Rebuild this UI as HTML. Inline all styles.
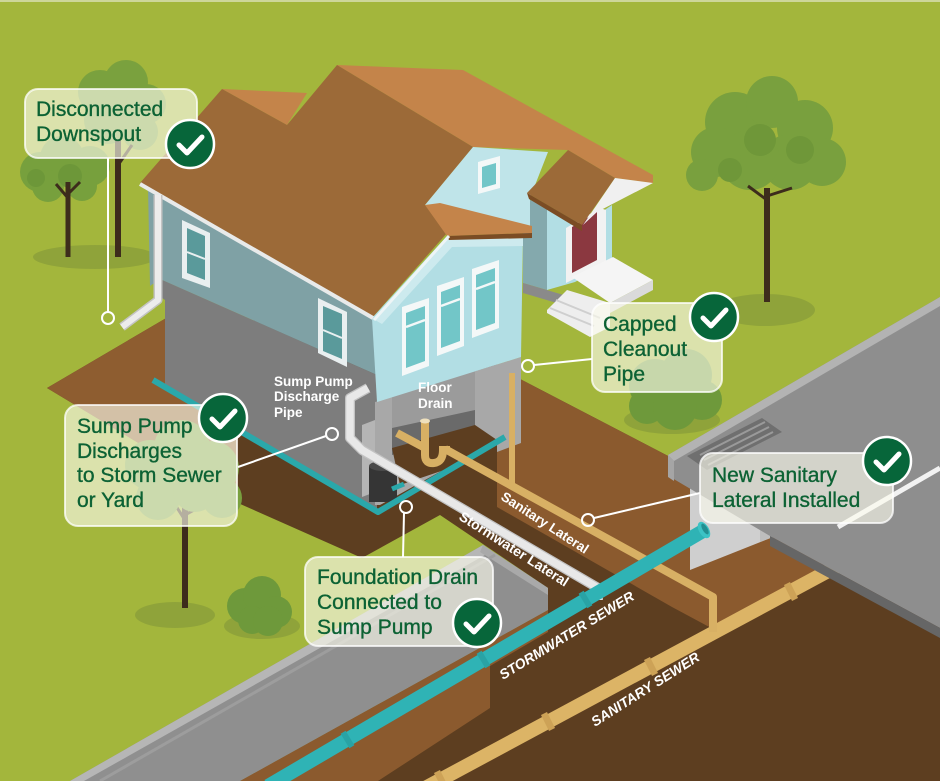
<!DOCTYPE html>
<html><head><meta charset="utf-8"><style>
html,body{margin:0;padding:0;background:#a3b63c;}
svg{display:block;}
.lbl{font-family:"Liberation Sans",sans-serif;font-size:21px;fill:#0c6234;stroke:#0c6234;stroke-width:0.35px;}
.wt{font-family:"Liberation Sans",sans-serif;font-weight:bold;fill:#ffffff;}
</style></head><body>
<svg width="940" height="781" viewBox="0 0 940 781" xmlns="http://www.w3.org/2000/svg">
<rect width="940" height="781" fill="#a3b63c"/>
<rect width="940" height="2" fill="#cdd69a"/>

<!-- left trees -->
<ellipse cx="95" cy="257" rx="62" ry="12" fill="#8fa33a"/>
<g fill="#7aa13e">
<circle cx="100" cy="92" r="22"/><circle cx="126" cy="82" r="22"/><circle cx="146" cy="104" r="20"/><circle cx="108" cy="120" r="24"/><circle cx="140" cy="132" r="18"/>
</g>
<line x1="118" y1="257" x2="118" y2="140" stroke="#3d2c1c" stroke-width="6"/>
<line x1="118" y1="165" x2="132" y2="145" stroke="#3d2c1c" stroke-width="3"/>
<g fill="#77a03d">
<circle cx="40" cy="172" r="20"/><circle cx="62" cy="158" r="22"/><circle cx="90" cy="166" r="20"/><circle cx="48" cy="186" r="16"/><circle cx="82" cy="186" r="15"/>
</g>
<g fill="#6d9739"><circle cx="70" cy="176" r="12"/><circle cx="36" cy="178" r="9"/></g>
<line x1="68" y1="257" x2="68" y2="182" stroke="#3d2c1c" stroke-width="5"/>
<line x1="68" y1="198" x2="56" y2="184" stroke="#3d2c1c" stroke-width="3"/>
<line x1="68" y1="194" x2="80" y2="182" stroke="#3d2c1c" stroke-width="3"/>

<!-- right tree -->
<ellipse cx="765" cy="310" rx="50" ry="16" fill="#8fa33a"/>
<g fill="#79a03e">
<circle cx="735" cy="122" r="30"/><circle cx="772" cy="102" r="26"/><circle cx="805" cy="128" r="28"/><circle cx="822" cy="162" r="24"/><circle cx="790" cy="162" r="28"/><circle cx="750" cy="160" r="30"/><circle cx="716" cy="152" r="25"/><circle cx="702" cy="175" r="16"/>
</g>
<g fill="#6f9739"><circle cx="760" cy="140" r="16"/><circle cx="800" cy="150" r="14"/><circle cx="730" cy="170" r="12"/></g>
<line x1="767" y1="302" x2="767" y2="188" stroke="#3d2c1c" stroke-width="6"/>
<line x1="767" y1="200" x2="748" y2="186" stroke="#3d2c1c" stroke-width="3"/>
<line x1="767" y1="196" x2="792" y2="188" stroke="#3d2c1c" stroke-width="3"/>

<!-- soil: dark base -->
<polygon points="47,388 168,317 497,330 497,367 672,458 940,298 940,781 240,781 548,610 548,588 440,515 362,558 238,503" fill="#5d3e20"/>
<!-- medium walls -->
<polygon points="47,388 168,317 168,383 238,423 238,503" fill="#8e5d30"/>
<polygon points="497,367 672,458 672,607 497,507" fill="#8b5a2e"/>
<polygon points="672,458 840,458 840,560 713,629 672,607" fill="#8b5a2e"/>
<polygon points="240,781 548,610 548,632 490,666 490,708 378,781" fill="#8b5a2e"/>

<!-- concrete box -->
<polygon points="690,470 773,470 773,537 690,570" fill="#cfcfcf"/>
<polygon points="760,470 773,470 773,537 760,542" fill="#bdbdbd"/>

<!-- sanitary sewer (behind street) -->
<line x1="425" y1="788" x2="845" y2="562" stroke="#dcb466" stroke-width="14"/>
<g stroke="#cda257" stroke-width="18">
<line x1="438" y1="781" x2="444" y2="778"/><line x1="545" y1="723" x2="551" y2="720"/><line x1="648" y1="668" x2="654" y2="665"/><line x1="788" y1="593" x2="794" y2="590"/>
</g>

<!-- street -->
<polygon points="668,455 940,297 940,628 770,536 672,478" fill="#8e8e8e"/>
<polygon points="668,455 940,297 940,306 674,461" fill="#b3b3b3"/>
<polygon points="668,455 674,461 674,481 668,477" fill="#a5a5a5"/>
<polygon points="770,536 940,628 940,638 770,546" fill="#666666"/>
<polygon points="687,456 762,418 782,432 707,470" fill="#6f6f6f"/>
<g stroke="#9a9a9a" stroke-width="2">
<line x1="700" y1="455" x2="765" y2="422"/><line x1="704" y1="460" x2="769" y2="427"/><line x1="708" y1="465" x2="773" y2="432"/>
</g>
<line x1="838" y1="527" x2="940" y2="468" stroke="#f2f2f2" stroke-width="5"/>

<!-- sidewalk slab -->
<polygon points="70,781 483,545 548,588 548,610 240,781" fill="#8f8f8f"/>
<polygon points="70,781 483,545 492,551 84,781" fill="#b6b6b6"/>
<polygon points="483,545 548,588 548,595 480,552" fill="#a9a9a9"/>
<line x1="100" y1="781" x2="495" y2="555" stroke="#9d9d9d" stroke-width="3"/>

<!-- bottom-left tree -->
<ellipse cx="175" cy="615" rx="40" ry="13" fill="#8fa33a"/>
<line x1="185" y1="608" x2="185" y2="505" stroke="#3d2c1c" stroke-width="6"/>
<line x1="185" y1="520" x2="172" y2="500" stroke="#3d2c1c" stroke-width="3"/>
<line x1="185" y1="515" x2="203" y2="505" stroke="#3d2c1c" stroke-width="3"/>
<g fill="#79a03e">
<circle cx="150" cy="465" r="25"/><circle cx="182" cy="448" r="28"/><circle cx="212" cy="468" r="27"/><circle cx="222" cy="498" r="20"/><circle cx="158" cy="498" r="22"/><circle cx="195" cy="490" r="22"/>
</g>
<!-- bushes -->
<ellipse cx="262" cy="626" rx="38" ry="13" fill="#8fa33a"/>
<g fill="#6e993b">
<circle cx="245" cy="606" r="18"/><circle cx="262" cy="595" r="19"/><circle cx="276" cy="612" r="16"/><circle cx="252" cy="620" r="14"/><circle cx="268" cy="621" r="15"/>
</g>
<ellipse cx="672" cy="420" rx="48" ry="14" fill="#8fa33a"/>
<g fill="#6e993b">
<circle cx="655" cy="385" r="26"/><circle cx="686" cy="375" r="26"/><circle cx="702" cy="400" r="20"/><circle cx="647" cy="406" r="18"/><circle cx="675" cy="408" r="22"/>
</g>

<!-- HOUSE -->
<polygon points="158,278 377,375 377,512 165,386 165,300 158,295" fill="#7d7d7d"/>
<polygon points="148,188 375,320 377,375 160,279 150,286" fill="#7fa1a5"/>
<polygon points="182,220 210,233 210,288 182,278" fill="#e9eff0"/>
<polygon points="187,228 205,236 205,280 187,273" fill="#5a9a9b"/>
<line x1="187" y1="252" x2="205" y2="259" stroke="#e9eff0" stroke-width="2"/>
<polygon points="318,298 347,312 347,367 318,353" fill="#e9eff0"/>
<polygon points="323,306 342,314 342,359 323,351" fill="#5a9a9b"/>
<line x1="323" y1="330" x2="342" y2="338" stroke="#e9eff0" stroke-width="2"/>

<polygon points="375,402 521,357 521,443 497,452 497,440 380,505 375,505" fill="#a8a8a8"/>
<polygon points="392,393 475,368 475,425 392,450" fill="#9b9b9b"/>
<polygon points="392,428 475,410 475,432 392,455" fill="#6a6a6a"/>
<polygon points="392,448 475,425 497,440 497,452 400,485" fill="#5d3e20"/>
<polygon points="362,425 375,420 375,492 362,497" fill="#b5b5b5"/>

<polygon points="372,318 447,236 523,235 521,357 377,402" fill="#b2dee4"/>
<polygon points="375,320 449,237 523,236 523,246 452,247 382,324" fill="#cdeaee"/>
<g>
<polygon points="402,307 429,298 429,366 402,376" fill="#f4f8f8"/>
<polygon points="406,313 425,306 425,361 406,368" fill="#72c6c8"/>
<line x1="406" y1="327" x2="425" y2="320" stroke="#f4f8f8" stroke-width="2.5"/>
<polygon points="437,286 464,277 464,346 437,356" fill="#f4f8f8"/>
<polygon points="441,292 460,285 460,341 441,348" fill="#72c6c8"/>
<line x1="441" y1="306" x2="460" y2="299" stroke="#f4f8f8" stroke-width="2.5"/>
<polygon points="472,269 499,260 499,328 472,338" fill="#f4f8f8"/>
<polygon points="476,275 495,268 495,323 476,330" fill="#72c6c8"/>
<line x1="476" y1="289" x2="495" y2="282" stroke="#f4f8f8" stroke-width="2.5"/>
</g>

<!-- wing -->
<polygon points="523,198 547,205 547,290 523,283" fill="#84a9ad"/>
<polygon points="547,205 582,225 612,205 612,262 575,282 547,290" fill="#b2dee4"/>
<polygon points="566,228 600,208 606,210 606,262 572,280 566,283" fill="#f2f2f2"/>
<polygon points="572,227 597,212 597,260 572,273" fill="#8b3840"/>
<polygon points="523,283 567,296 567,306 523,293" fill="#8a8a8a"/>
<polygon points="572,277 613,257 653,280 610,303" fill="#f5f5f5"/>
<polygon points="610,303 653,280 653,290 610,313" fill="#dadada"/>
<polygon points="547,310 567,290 610,303 610,327 590,337 547,313" fill="#eeeeee"/>
<line x1="556" y1="300" x2="600" y2="318" stroke="#cfcfcf" stroke-width="2"/>
<line x1="550" y1="308" x2="594" y2="326" stroke="#cfcfcf" stroke-width="2"/>

<!-- roof -->
<polygon points="337,65 463,70 653,175 653,183 615,178 568,150 473,147" fill="#c4844a"/>
<polygon points="222,89 307,93 287,125" fill="#c4844a"/>
<polygon points="140,183 222,89 287,125 337,65 473,147 425,205 447,233 372,318" fill="#9c6a38"/>
<polygon points="425,205 473,147 548,152 530,198 530,226 440,204" fill="#bfe4e9"/>
<polygon points="478,162 500,156 500,188 478,194" fill="#f4f8f8"/>
<polygon points="482,167 496,163 496,184 482,188" fill="#72c6c8"/>
<polygon points="425,205 440,203 532,226 532,233 447,236" fill="#c4844a"/>
<polygon points="447,236 532,233 532,238 449,240" fill="#7b4c24"/>
<polygon points="527,193 568,150 615,178 582,225" fill="#9c6a38"/>
<polygon points="527,193 582,225 582,231 529,199" fill="#7b4c24"/>
<polygon points="615,178 653,183 597,212 583,225" fill="#f0f0f0"/>
<line x1="140" y1="184" x2="373" y2="318" stroke="#e8eaea" stroke-width="4"/>
<line x1="374" y1="320" x2="449" y2="236" stroke="#eef5f6" stroke-width="3"/>
<path d="M158,195 L158,300 L122,327" fill="none" stroke="#c4c4c4" stroke-width="9" stroke-linejoin="round"/>
<path d="M158,195 L158,300 L122,327" fill="none" stroke="#ececec" stroke-width="6" stroke-linejoin="round"/>

<!-- pipes under house -->
<rect x="369" y="466" width="28" height="36" fill="#353535"/>
<ellipse cx="383" cy="466" rx="14" ry="5" fill="#4a4a4a"/>
<polyline points="153,380 378,512 505,437" fill="none" stroke="#2aa8aa" stroke-width="6" stroke-linejoin="round"/>
<line x1="392" y1="489" x2="404" y2="484" stroke="#2aa8aa" stroke-width="5"/>
<line x1="397" y1="433" x2="425" y2="448" stroke="#d8b064" stroke-width="8"/>
<path d="M425,422 V455 Q425,464 434,463 Q443,462 443,450 L450,450" fill="none" stroke="#d8b064" stroke-width="8"/>
<polyline points="445,449 713,597 713,632" fill="none" stroke="#d8b064" stroke-width="8" stroke-linejoin="round"/>
<line x1="512" y1="373" x2="512" y2="486" stroke="#d8b064" stroke-width="6"/>
<ellipse cx="425" cy="421" rx="5" ry="2.5" fill="#eee0bd"/>
<polyline points="368,388 350,398 350,438 362,450 598,588 598,600" fill="none" stroke="#c2c2c2" stroke-width="10" stroke-linejoin="round"/>
<polyline points="368,388 350,398 350,438 362,450 598,588 598,600" fill="none" stroke="#e8e8e8" stroke-width="7.5" stroke-linejoin="round"/>

<!-- stormwater sewer -->
<line x1="268" y1="786" x2="703" y2="531" stroke="#2fb3b5" stroke-width="14"/>
<g stroke="#29a3a5" stroke-width="17">
<line x1="345" y1="741" x2="350" y2="738"/><line x1="481" y1="661" x2="486" y2="658"/><line x1="583" y1="601" x2="588" y2="598"/>
</g>
<ellipse cx="704" cy="530" rx="5" ry="9" transform="rotate(-30 704 530)" fill="#3cc3c5"/>
<ellipse cx="705" cy="529" rx="2.5" ry="6" transform="rotate(-30 705 529)" fill="#238f91"/>

<!-- pipe labels -->
<text class="wt" font-size="13.5" transform="translate(500,499) rotate(33)">Sanitary Lateral</text>
<text class="wt" font-size="14" transform="translate(458,519) rotate(32.5)">Stormwater Lateral</text>
<text class="wt" font-size="14" font-style="italic" transform="translate(503,680) rotate(-31.5)">STORMWATER SEWER</text>
<text class="wt" font-size="14" font-style="italic" transform="translate(595,727) rotate(-32.5)">SANITARY SEWER</text>

<g class="wt" font-size="13.5">
<text x="274" y="386">Sump Pump</text>
<text x="274" y="401">Discharge</text>
<text x="274" y="417">Pipe</text>
<text x="418" y="392">Floor</text>
<text x="418" y="408">Drain</text>
</g>

<!-- connectors -->
<g stroke="#ffffff" stroke-width="2" fill="none">
<line x1="108" y1="158" x2="108" y2="312"/>
<circle cx="108" cy="318" r="6"/>
<line x1="534" y1="365" x2="592" y2="359"/>
<circle cx="528" cy="366" r="6"/>
<line x1="238" y1="467" x2="326" y2="436"/>
<circle cx="332" cy="434" r="6"/>
<line x1="404" y1="513" x2="403" y2="557"/>
<circle cx="406" cy="507" r="6"/>
<line x1="594" y1="518" x2="700" y2="493"/>
<circle cx="588" cy="520" r="6"/>
</g>

<!-- callout boxes -->
<g fill="#fcfcee" fill-opacity="0.63" stroke="#ffffff" stroke-opacity="0.75" stroke-width="2">
<rect x="25" y="89" width="172" height="69" rx="13"/>
<rect x="592" y="303" width="130" height="89" rx="13"/>
<rect x="65" y="405" width="172" height="121" rx="13"/>
<rect x="305" y="557" width="188" height="89" rx="13"/>
<rect x="700" y="453" width="193" height="70" rx="13"/>
</g>
<g class="lbl">
<text x="36" y="116">Disconnected</text>
<text x="36" y="141">Downspout</text>
<text x="603" y="331">Capped</text>
<text x="603" y="356">Cleanout</text>
<text x="603" y="381">Pipe</text>
<text x="77" y="433">Sump Pump</text>
<text x="77" y="458">Discharges</text>
<text x="77" y="482">to Storm Sewer</text>
<text x="77" y="507">or Yard</text>
<text x="317" y="584">Foundation Drain</text>
<text x="317" y="609">Connected to</text>
<text x="317" y="634">Sump Pump</text>
<text x="712" y="482">New Sanitary</text>
<text x="712" y="507">Lateral Installed</text>
</g>

<g>
<circle cx="190" cy="144" r="24" fill="#07663a" stroke="#ffffff" stroke-width="2.5"/>
<polyline points="179,145 187,153 202,137" fill="none" stroke="#ffffff" stroke-width="5" stroke-linecap="round" stroke-linejoin="round"/>
<circle cx="714" cy="317" r="24" fill="#07663a" stroke="#ffffff" stroke-width="2.5"/>
<polyline points="703,318 711,326 726,310" fill="none" stroke="#ffffff" stroke-width="5" stroke-linecap="round" stroke-linejoin="round"/>
<circle cx="223" cy="418" r="24" fill="#07663a" stroke="#ffffff" stroke-width="2.5"/>
<polyline points="212,419 220,427 235,411" fill="none" stroke="#ffffff" stroke-width="5" stroke-linecap="round" stroke-linejoin="round"/>
<circle cx="477" cy="623" r="24" fill="#07663a" stroke="#ffffff" stroke-width="2.5"/>
<polyline points="466,624 474,632 489,616" fill="none" stroke="#ffffff" stroke-width="5" stroke-linecap="round" stroke-linejoin="round"/>
<circle cx="887" cy="461" r="24" fill="#07663a" stroke="#ffffff" stroke-width="2.5"/>
<polyline points="876,462 884,470 899,454" fill="none" stroke="#ffffff" stroke-width="5" stroke-linecap="round" stroke-linejoin="round"/>
</g>
</svg>
</body></html>
